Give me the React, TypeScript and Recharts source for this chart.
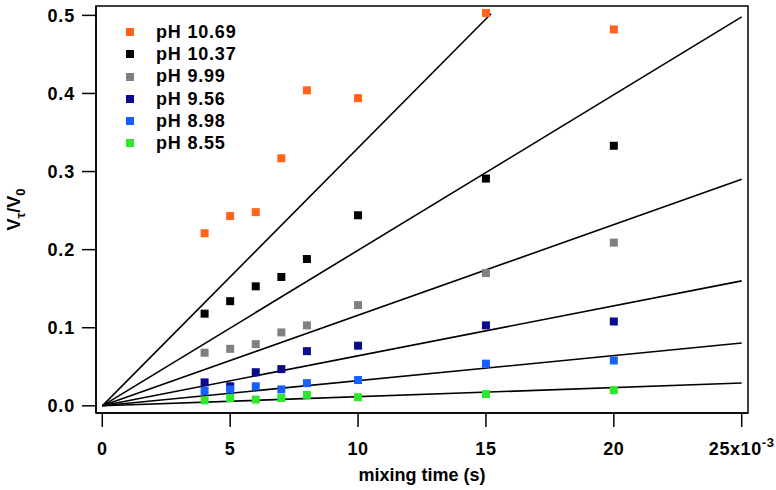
import { ComposedChart, Scatter, Line, XAxis, YAxis, ReferenceArea } from "recharts"

// mixing time in ms (axis is labelled in units of 1e-3 s)
const mixingTimes = [4, 5, 6, 7, 8, 10, 15, 20]

const phLabels = ["pH 10.69", "pH 10.37", "pH 9.99", "pH 9.56", "pH 8.98", "pH 8.55"]
const phColors = ["#ff641a", "#000000", "#808080", "#0a0a8c", "#1560ff", "#2ee82e"]

const ph1069 = [0.221, 0.243, 0.248, 0.317, 0.404, 0.394, 0.503, 0.482]
const ph1037 = [0.118, 0.134, 0.153, 0.165, 0.188, 0.244, 0.291, 0.333]
const ph999 = [0.068, 0.073, 0.079, 0.094, 0.103, 0.129, 0.170, 0.209]
const ph956 = [0.030, 0.025, 0.043, 0.047, 0.070, 0.077, 0.103, 0.108]
const ph898 = [0.019, 0.021, 0.025, 0.021, 0.029, 0.033, 0.054, 0.058]
const ph855 = [0.007, 0.010, 0.008, 0.010, 0.014, 0.011, 0.015, 0.020]

// linear fits through the origin: end point of each fitted line
const fitEndX = [15.2, 25, 25, 25, 25, 25]
const fitEndY = [0.502, 0.498, 0.290, 0.160, 0.0805, 0.0292]

const xTicks = [0, 5, 10, 15, 20, 25]
const yTicks = [0, 0.1, 0.2, 0.3, 0.4, 0.5]

const xDomain = [-0.246, 25.246]
const yDomain = [-0.0092, 0.512]

const series = [ph1069, ph1037, ph999, ph956, ph898, ph855].map((vals) =>
  mixingTimes.map((x, i) => ({ x, y: vals[i] }))
)
const fits = fitEndX.map((ex, i) => [
  { x: 0, y: 0 },
  { x: ex, y: fitEndY[i] },
])

const font = "'Liberation Sans', Arial, sans-serif"

const XTick = (props: any) => {
  const { x, y, payload } = props
  const v = payload.value
  return (
    <text x={x} y={y} dy="0.71em" textAnchor="middle" fontFamily={font} fontWeight="bold" fontSize={18} letterSpacing={0.6} fill="#000">
      {v === 25 ? (
        <>
          <tspan>25x10</tspan>
          <tspan dy={-8} fontSize={13}>-3</tspan>
        </>
      ) : (
        v
      )}
    </text>
  )
}

const YTick = (props: any) => {
  const { x, y, payload } = props
  return (
    <text x={x} y={y} dy="0.36em" textAnchor="end" fontFamily={font} fontWeight="bold" fontSize={18} letterSpacing={0.8} fill="#000">
      {payload.value.toFixed(1)}
    </text>
  )
}

const LegendBox = () => (
  <div
    style={{
      position: "absolute",
      left: 126,
      top: 21,
      fontFamily: font,
      fontWeight: "bold",
      fontSize: 18,
      letterSpacing: 0.8,
      lineHeight: "22.2px",
    }}
  >
    {phLabels.map((l, i) => (
      <div key={l} style={{ display: "flex", alignItems: "center" }}>
        <span style={{ width: 8, height: 8, background: phColors[i], display: "inline-block" }} />
        <span style={{ marginLeft: 22 }}>{l}</span>
      </div>
    ))}
  </div>
)

export default function App() {
  return (
    <div style={{ position: "absolute", left: 0, top: 0, width: 776, height: 490 }}>
      <ComposedChart width={776} height={490} margin={{ top: 6, right: 28, bottom: 0, left: 0 }}>
        <XAxis
          dataKey="x"
          type="number"
          domain={xDomain}
          ticks={xTicks}
          allowDataOverflow
          height={77}
          tickSize={14}
          tickMargin={15}
          stroke="#000"
          strokeWidth={1.5}
          tick={<XTick />}
          label={{
            value: "mixing time (s)",
            position: "insideBottom",
            offset: 9,
            fill: "#000",
            fontFamily: font,
            fontWeight: "bold",
            fontSize: 18,
          }}
        />
        <YAxis
          type="number"
          domain={yDomain}
          ticks={yTicks}
          allowDataOverflow
          width={96}
          tickSize={14}
          tickMargin={7}
          stroke="#000"
          strokeWidth={1.5}
          tick={<YTick />}
          label={(p: any) => {
            const vb = p.viewBox
            const cx = 20
            const cy = vb.y + vb.height / 2
            return (
              <text
                x={cx}
                y={cy}
                transform={`rotate(-90 ${cx} ${cy})`}
                textAnchor="middle"
                fontFamily={font}
                fontWeight="bold"
                fontSize={18}
                fill="#000"
              >
                <tspan>V</tspan>
                <tspan dy={5} fontSize={13}>τ</tspan>
                <tspan dy={-5}>/V</tspan>
                <tspan dy={5} fontSize={13}>0</tspan>
              </text>
            )
          }}
        />
        {/* plot frame */}
        <ReferenceArea
          x1={xDomain[0]}
          x2={xDomain[1]}
          y1={yDomain[0]}
          y2={yDomain[1]}
          fill="none"
          stroke="#000"
          strokeWidth={1.5}
          ifOverflow="extendDomain"
        />
        {fits.map((d, i) => (
          <Line
            key={"fit" + i}
            data={d}
            dataKey="y"
            type="linear"
            stroke="#000"
            strokeWidth={1.6}
            dot={false}
            activeDot={false}
            legendType="none"
            isAnimationActive={false}
          />
        ))}
        {series.map((d, i) => (
          <Scatter
            key={phLabels[i]}
            name={phLabels[i]}
            data={d}
            dataKey="y"
            fill={phColors[i]}
            isAnimationActive={false}
            shape={(p: any) => <rect x={p.cx - 4} y={p.cy - 4} width={8} height={8} fill={phColors[i]} />}
          />
        ))}
      </ComposedChart>
      <LegendBox />
    </div>
  )
}
